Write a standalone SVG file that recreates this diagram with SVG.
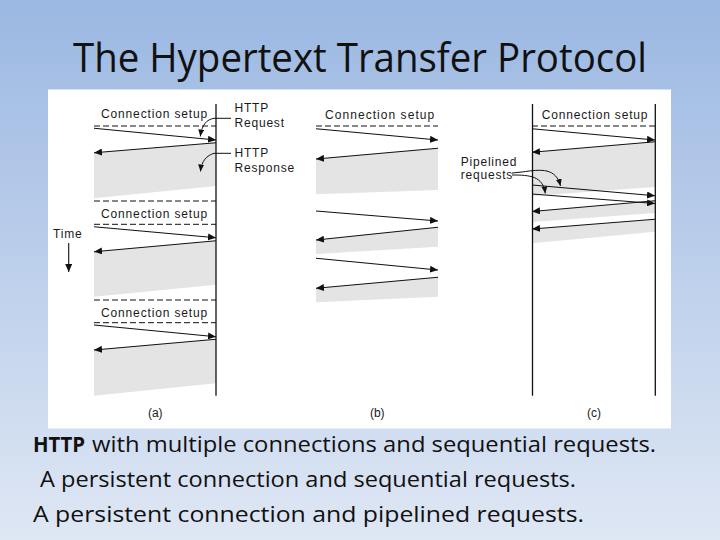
<svg xmlns="http://www.w3.org/2000/svg" width="720" height="540" viewBox="0 0 720 540">
<defs>
<linearGradient id="bg" x1="0" y1="0" x2="0" y2="1">
<stop offset="0" stop-color="#9bb8e2"/>
<stop offset="1" stop-color="#dfe7f4"/>
</linearGradient>
<marker id="ah" viewBox="0 0 8 7" refX="8" refY="3.5" markerWidth="8" markerHeight="7" markerUnits="userSpaceOnUse" orient="auto">
<path d="M0,0 L8,3.5 L0,7 Z" fill="#111"/>
</marker>
<marker id="ahs" viewBox="0 0 7 6" refX="7" refY="3" markerWidth="7" markerHeight="6" markerUnits="userSpaceOnUse" orient="auto">
<path d="M0,0 L7,3 L0,6 Z" fill="#111"/>
</marker>
<style>
.lbl{font-family:"Liberation Sans",Arial,sans-serif;font-size:12px;fill:#1a1a1a;letter-spacing:0.8px}
.cap{font-family:"Liberation Sans",Arial,sans-serif;font-size:12px;fill:#1a1a1a}
.band{fill:#e4e4e4}
.ax{stroke:#111;stroke-width:1.3;fill:none}
.dash{stroke:#111;stroke-width:1;stroke-dasharray:6 3;fill:none}
.msg{stroke:#111;stroke-width:1.1;fill:none;marker-end:url(#ah)}
.lead{stroke:#111;stroke-width:1;fill:none}
.leada{stroke:#111;stroke-width:1;fill:none;marker-end:url(#ahs)}
.title{font-family:"Open Sans","Noto Sans",sans-serif;font-size:41px;fill:#111}
.body{font-family:"Open Sans","Noto Sans",sans-serif;font-size:22px;fill:#111}
</style>
</defs>
<rect x="0" y="0" width="720" height="540" fill="url(#bg)"/>
<text class="title" x="73" y="72" textLength="574" lengthAdjust="spacingAndGlyphs">The Hypertext Transfer Protocol</text>
<rect x="48" y="89.5" width="623" height="339" fill="#ffffff"/>

<g id="panel-a">
<polygon class="band" points="94,152.7 216,142.7 216,186 94,198.3"/>
<polygon class="band" points="94,251.7 216,240.7 216,284.7 94,296.7"/>
<polygon class="band" points="94,350 216,339.3 216,383.3 94,395.7"/>
<line class="ax" x1="216" y1="104" x2="216" y2="395.7"/>
<text class="lbl" x="101" y="118" textLength="107">Connection setup</text>
<line class="dash" x1="94" y1="126" x2="216" y2="126"/>
<line class="dash" x1="94" y1="201" x2="216" y2="201"/>
<text class="lbl" x="101" y="217.7" textLength="107">Connection setup</text>
<line class="dash" x1="94" y1="224.3" x2="216" y2="224.3"/>
<line class="dash" x1="94" y1="300" x2="216" y2="300"/>
<text class="lbl" x="101" y="316.7" textLength="107">Connection setup</text>
<line class="dash" x1="94" y1="322.7" x2="216" y2="322.7"/>
<text class="cap" x="155.3" y="417" text-anchor="middle">(a)</text>
</g>

<g id="label-http-request">
<text class="lbl" x="234.5" y="111.5">HTTP</text>
<text class="lbl" x="234.5" y="127">Request</text>
</g>
<g id="label-http-response">
<text class="lbl" x="234.5" y="156.5">HTTP</text>
<text class="lbl" x="234.5" y="171.7">Response</text>
</g>
<g id="label-time">
<text class="lbl" x="53" y="237.5">Time</text>
</g>

<g id="panel-b">
<polygon class="band" points="316,159 438,148.3 438,190 316,194.3"/>
<polygon class="band" points="316,240 438,227.3 438,246.7 316,254"/>
<polygon class="band" points="316,288.3 438,277.3 438,296.7 316,302.3"/>
<text class="lbl" x="325" y="119" textLength="110">Connection setup</text>
<line class="dash" x1="316" y1="126" x2="438" y2="126"/>
<text class="cap" x="377.3" y="417" text-anchor="middle">(b)</text>
</g>

<g id="panel-c">
<polygon class="band" points="532,152.3 655,141.7 655,187 532,196"/>
<polygon class="band" points="532,211.5 655,200.7 655,213 532,222"/>
<polygon class="band" points="532,229 655,219.3 655,231.7 532,243.3"/>
<line class="ax" x1="532.5" y1="104" x2="532.5" y2="395.7"/>
<line class="ax" x1="655.3" y1="104" x2="655.3" y2="395.7"/>
<text class="lbl" x="541.7" y="119" textLength="106.6">Connection setup</text>
<line class="dash" x1="532" y1="126" x2="655" y2="126"/>
<text class="cap" x="594" y="417.3" text-anchor="middle">(c)</text>
</g>
<g id="label-pipelined">
<text class="lbl" x="460.7" y="166">Pipelined</text>
<text class="lbl" x="460.7" y="178.5">requests</text>
</g>

<g id="connectors">
<!-- panel a -->
<line class="msg" x1="94" y1="128.3" x2="216" y2="140"/>
<line class="msg" x1="216" y1="142.7" x2="94" y2="152.7"/>
<line class="msg" x1="94" y1="226.7" x2="216" y2="237.7"/>
<line class="msg" x1="216" y1="240.7" x2="94" y2="251.7"/>
<line class="msg" x1="94" y1="325" x2="216" y2="336.7"/>
<line class="msg" x1="216" y1="339.3" x2="94" y2="350"/>
<path class="leada" d="M231,118.3 L214,118.3 C207,119.5 202,124 200.3,136.5"/>
<path class="leada" d="M231,153.3 L214,153.3 C207,155.5 201.5,160.5 200.5,171.5"/>
<line class="msg" x1="68.7" y1="243" x2="68.7" y2="272"/>
<!-- panel b -->
<line class="msg" x1="316" y1="128.7" x2="438" y2="140"/>
<line class="msg" x1="438" y1="148.3" x2="316" y2="159"/>
<line class="msg" x1="316" y1="211" x2="438" y2="221"/>
<line class="msg" x1="438" y1="227.3" x2="316" y2="240"/>
<line class="msg" x1="316" y1="258.3" x2="438" y2="270"/>
<line class="msg" x1="438" y1="277.3" x2="316" y2="288.3"/>
<!-- panel c -->
<line class="msg" x1="532" y1="128.7" x2="655" y2="140"/>
<line class="msg" x1="655" y1="141.7" x2="532" y2="152.3"/>
<line class="msg" x1="532" y1="185" x2="655" y2="195.7"/>
<line class="msg" x1="532" y1="194" x2="655" y2="203.5"/>
<line class="msg" x1="655" y1="200.7" x2="532" y2="211.5"/>
<line class="msg" x1="655" y1="219.3" x2="532" y2="229"/>
<path class="leada" d="M512,173 L522,172 C542,169 556,168 560.5,186"/>
<path class="leada" d="M512,175 C530,175 543,176 545.3,193.5"/>
</g>

<g id="caption">
<text class="body" x="33" y="452" font-weight="bold" textLength="52" lengthAdjust="spacingAndGlyphs">HTTP</text>
<text class="body" x="92" y="452" textLength="564" lengthAdjust="spacingAndGlyphs">with multiple connections and sequential requests.</text>
<text class="body" x="40" y="487" textLength="536" lengthAdjust="spacingAndGlyphs">A persistent connection and sequential requests.</text>
<text class="body" x="33" y="522" textLength="551" lengthAdjust="spacingAndGlyphs">A persistent connection and pipelined requests.</text>
</g>
</svg>
